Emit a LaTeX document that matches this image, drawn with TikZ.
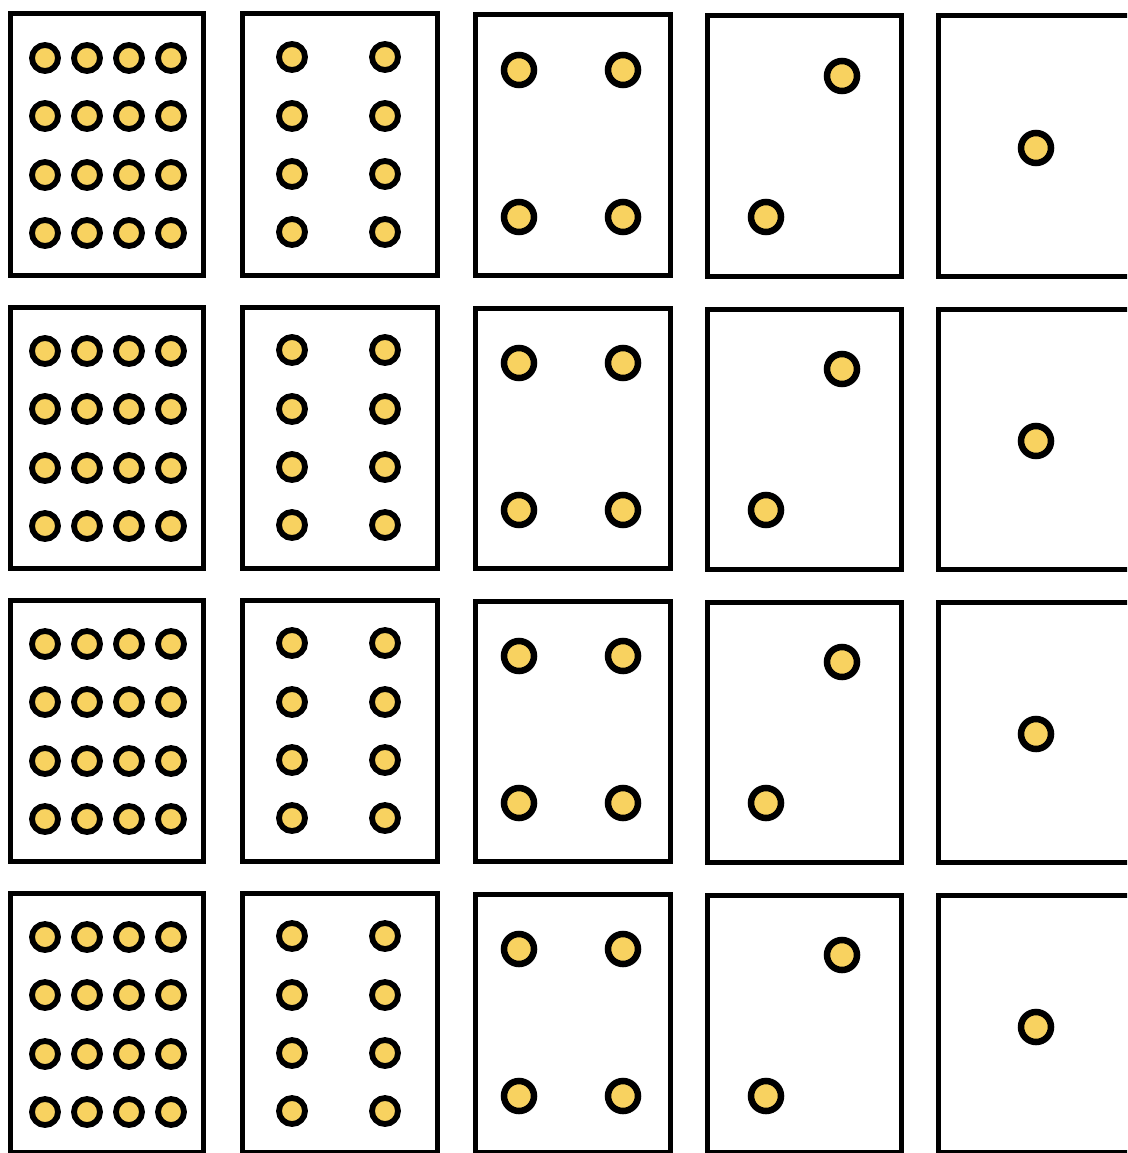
\documentclass[tikz,border=0pt]{standalone}
\definecolor{dotyellow}{RGB}{248,210,96}
\tikzset{
  card/.style={draw=black, line width=5pt, fill=white, line join=miter},
  smalldot/.style={circle, draw=black, fill=dotyellow, line width=5.8pt, minimum size=26pt, inner sep=0pt},
  bigdot/.style={circle, draw=black, fill=dotyellow, line width=6.5pt, minimum size=30pt, inner sep=0pt},
}
\begin{document}
\begin{tikzpicture}[x=1pt,y=-1pt]
\useasboundingbox (0,0) rectangle (1127,1153);
\clip (0,0) rectangle (1127,1153);
\fill[white] (0,0) rectangle (1127,1153);
\foreach \r in {0,1,2,3}{
  \pgfmathsetmacro{\T}{14+293*\r}
  \pgfmathsetmacro{\B}{min(\T+261,1152)}
  \pgfmathsetmacro{\Bb}{min(\T+262,1152)}
  % cards
  \draw[card] (10,\T) rectangle (203,\B);
  \draw[card] (242,\T) rectangle (437,\B);
  \draw[card] (475,\T+1) rectangle (670,\B);
  \draw[card] (707,\T+2) rectangle (901,\Bb);
  \draw[card] (938,\T+2) rectangle (1136,\Bb);
  % column 1: 4x4
  \foreach \i/\x in {1/45,2/87,3/129,4/171}{
    \foreach \j/\y in {1/44,2/102,3/161,4/219}{
      \node[smalldot] (a\r-\i-\j) at (\x,\T+\y) {};
    }
  }
  % column 2: 2x4
  \foreach \i/\x in {1/292,2/385}{
    \foreach \j/\y in {1/43,2/102,3/160,4/218}{
      \node[smalldot] (b\r-\i-\j) at (\x,\T+\y) {};
    }
  }
  % column 3: 2x2
  \foreach \i/\x in {1/519,2/623}{
    \foreach \j/\y in {1/56,2/203}{
      \node[bigdot] (c\r-\i-\j) at (\x,\T+\y) {};
    }
  }
  % column 4: two
  \node[bigdot] (d\r-1) at (842,\T+62) {};
  \node[bigdot] (d\r-2) at (766,\T+203) {};
  % column 5: one
  \node[bigdot] (e\r) at (1036,\T+134) {};
}
\end{tikzpicture}
\end{document}
